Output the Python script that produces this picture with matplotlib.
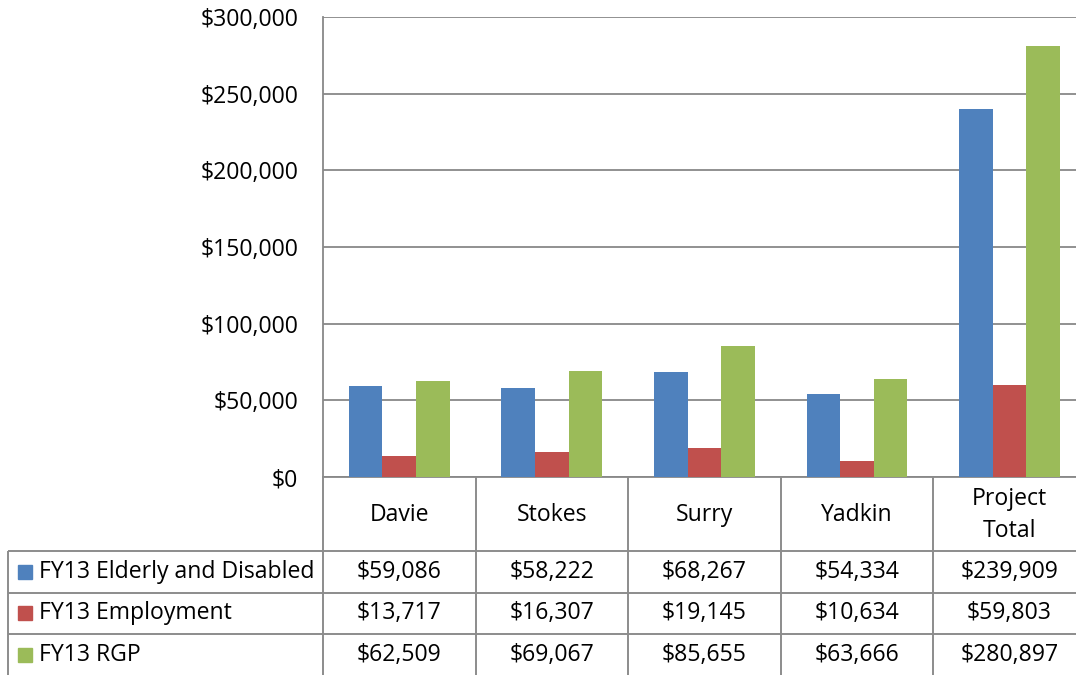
import matplotlib.pyplot as plt
import numpy as np

plt.rcParams['font.family'] = ['Open Sans', 'DejaVu Sans']

categories = ['Davie', 'Stokes', 'Surry', 'Yadkin', 'Project\nTotal']
series = ['FY13 Elderly and Disabled', 'FY13 Employment', 'FY13 RGP']
elderly = [59086, 58222, 68267, 54334, 239909]
employment = [13717, 16307, 19145, 10634, 59803]
rgp = [62509, 69067, 85655, 63666, 280897]
colors = ['#4F81BD', '#C0504D', '#9BBB59']
yticks = [0, 50000, 100000, 150000, 200000, 250000, 300000]

values = [elderly, employment, rgp]
W, H = 1076, 675
fs = 16.6
fig = plt.figure(figsize=(W / 100, H / 100), dpi=100)

# plot area in pixels: x 323..1086 (cut by image edge), y 17..477
px_left, px_right, px_top, px_bot = 323, 1085.8, 17, 477
ax = fig.add_axes([px_left / W, 1 - px_bot / H, (px_right - px_left) / W, (px_bot - px_top) / H])

n = len(categories)
x = np.arange(n) + 0.5
bw = 0.22
for i, (vals, c) in enumerate(zip(values, colors)):
    ax.bar(x + (i - 1) * bw, vals, width=bw, color=c, zorder=3)

ax.set_xlim(0, n)
ax.set_ylim(0, 300000)
ax.set_yticks(yticks)
ax.set_yticklabels([f'${v:,.0f}' for v in yticks], fontsize=fs)
ax.set_xticks([])
ax.tick_params(axis='y', length=0, pad=18)
ax.grid(axis='y', color='#888888', linewidth=1.3, zorder=0)
for s in ['top', 'right']:
    ax.spines[s].set_visible(False)
for s in ['left', 'bottom']:
    ax.spines[s].set_color('#888888')
    ax.spines[s].set_linewidth(1.3)

# data table below the plot
unit = (px_right - px_left) / n
tbl_left = 8
x0 = (tbl_left - px_left) / unit
hdr = 74 / 41.5
tbl_bot = 675.5
ax_t = fig.add_axes([tbl_left / W, 1 - tbl_bot / H, (px_right - tbl_left) / W, (tbl_bot - px_bot) / H])
ax_t.set_xlim(x0, n)
ax_t.set_ylim(0, 3 + hdr)
ax_t.axis('off')

lc = '#8C8C8C'
lw = 1.4
ax_t.hlines([0, 1, 2, 3], x0, n, color=lc, lw=lw, clip_on=False)
ax_t.vlines([x0], 0, 3, color=lc, lw=lw, clip_on=False)
ax_t.vlines(np.arange(n), 0, 3 + hdr, color=lc, lw=lw, clip_on=False)

for j, cat in enumerate(categories):
    ax_t.text(j + 0.5, 3 + hdr / 2 - 0.03, cat, ha='center', va='center', fontsize=fs, linespacing=1.45)

for i, (name, vals, c) in enumerate(zip(series, values, colors)):
    yc = 2.5 - i
    ax_t.plot([x0 + 16.5 / unit], [yc], marker='s', markersize=10.5, color=c, clip_on=False)
    ax_t.text(x0 + 31 / unit, yc, name, ha='left', va='center', fontsize=fs)
    for j, v in enumerate(vals):
        ax_t.text(j + 0.5, yc, f'${v:,.0f}', ha='center', va='center', fontsize=fs)

fig.savefig('out.png', dpi=100)
